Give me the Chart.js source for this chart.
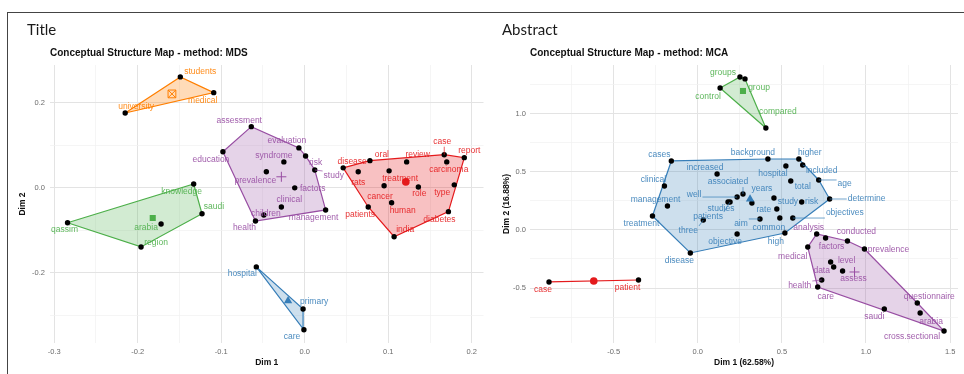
<!DOCTYPE html>
<html>
<head>
<meta charset="utf-8">
<script src="https://cdn.jsdelivr.net/npm/chart.js@4.4.1/dist/chart.umd.min.js"></script>
<style>
  body { margin: 0; background: #fff; width: 964px; height: 374px; overflow: hidden; position: relative; }
  .frameTop { position: absolute; left: 7px; top: 12px; width: 957px; border-top: 1.5px solid #444; }
  .frameLeft { position: absolute; left: 7px; top: 12px; height: 362px; border-left: 1.5px solid #444; }
  .heading { position: absolute; top: 22px; font: 15px/15px Lato, "Open Sans", sans-serif; color: #1a1a1a; }
  canvas { position: absolute; top: 0; }
</style>
</head>
<body>
<canvas id="mdsChart" width="490" height="374" style="left:0"></canvas>
<canvas id="mcaChart" width="474" height="374" style="left:490px"></canvas>
<div class="frameTop"></div>
<div class="frameLeft"></div>
<div class="heading" style="left:27px">Title</div>
<div class="heading" style="left:502px">Abstract</div>
<script>
// ---- Title words, MDS map ----
const mdsWords = ['students', 'medical', 'university',
  'knowledge', 'saudi', 'arabia', 'region', 'qassim',
  'assessment', 'education', 'evaluation', 'risk', 'study', 'syndrome', 'prevalence', 'factors', 'clinical', 'children', 'health', 'management',
  'disease', 'oral', 'review', 'case', 'report', 'carcinoma', 'rats', 'treatment', 'cancer', 'role', 'type', 'human', 'patients', 'diabetes', 'india',
  'hospital', 'primary', 'care'];
const mdsCluster = [0, 0, 0,
  1, 1, 1, 1, 1,
  2, 2, 2, 2, 2, 2, 2, 2, 2, 2, 2, 2,
  3, 3, 3, 3, 3, 3, 3, 3, 3, 3, 3, 3, 3, 3, 3,
  4, 4, 4];
const mdsDim1 = [-0.149, -0.109, -0.215,
  -0.133, -0.123, -0.172, -0.196, -0.284,
  -0.064, -0.098, -0.007, 0.001, 0.012, -0.025, -0.046, -0.012, -0.028, -0.049, -0.059, 0.025,
  0.046, 0.078, 0.122, 0.167, 0.191, 0.170, 0.064, 0.101, 0.095, 0.136, 0.179, 0.104, 0.076, 0.172, 0.107,
  -0.058, -0.002, -0.001];
const mdsDim2 = [0.261, 0.224, 0.176,
  0.009, -0.061, -0.085, -0.139, -0.082,
  0.144, 0.085, 0.094, 0.075, 0.042, 0.061, 0.038, 0.000, -0.045, -0.064, -0.078, -0.052,
  0.047, 0.064, 0.061, 0.078, 0.071, 0.061, 0.038, 0.040, 0.005, 0.002, 0.007, -0.035, -0.045, -0.056, -0.115,
  -0.186, -0.285, -0.334];
const mdsCentroidDim1 = [-0.159, -0.182, -0.028, 0.121, -0.020];
const mdsCentroidDim2 = [0.221, -0.071, 0.026, 0.014, -0.266];

// ---- Abstract words, MCA map ----
const mcaWords = ['groups', 'group', 'control', 'compared',
  'cases', 'clinical', 'management', 'treatment', 'disease', 'increased', 'associated', 'well', 'studies', 'patients', 'three', 'years',
  'background', 'higher', 'included', 'hospital', 'total', 'age', 'determine', 'risk', 'study', 'rate', 'objectives', 'common', 'aim', 'high', 'objective',
  'analysis', 'factors', 'conducted', 'prevalence', 'medical', 'level', 'data', 'assess', 'health', 'care', 'saudi', 'questionnaire', 'arabia', 'cross.sectional',
  'case', 'patient'];
const mcaCluster = [1, 1, 1, 1,
  4, 4, 4, 4, 4, 4, 4, 4, 4, 4, 4, 4,
  4, 4, 4, 4, 4, 4, 4, 4, 4, 4, 4, 4, 4, 4, 4,
  2, 2, 2, 2, 2, 2, 2, 2, 2, 2, 2, 2, 2, 2,
  3, 3];
const mcaDim1 = [0.251, 0.281, 0.133, 0.405,
  -0.157, -0.198, -0.180, -0.269, -0.044, 0.115, 0.269, 0.234, 0.180, 0.192, 0.033, 0.322,
  0.417, 0.601, 0.624, 0.524, 0.553, 0.719, 0.784, 0.618, 0.453, 0.470, 0.565, 0.488, 0.370, 0.518, 0.234,
  0.707, 0.760, 0.890, 0.991, 0.654, 0.790, 0.808, 0.861, 0.737, 0.713, 1.109, 1.305, 1.322, 1.464,
  -0.884, -0.352];
const mcaDim2 = [1.319, 1.302, 1.224, 0.879,
  0.595, 0.379, 0.207, 0.121, -0.198, 0.483, 0.310, 0.284, 0.241, 0.241, 0.086, 0.233,
  0.612, 0.612, 0.560, 0.552, 0.422, 0.431, 0.267, 0.241, 0.276, 0.181, 0.103, 0.103, 0.095, -0.026, -0.034,
  -0.034, -0.069, -0.095, -0.164, -0.147, -0.276, -0.319, -0.353, -0.431, -0.491, -0.681, -0.629, -0.716, -0.871,
  -0.448, -0.431];
const mcaCentroidDim1 = [null, 0.269, 0.932, -0.618, 0.311];
const mcaCentroidDim2 = [null, 1.198, -0.362, -0.440, 0.267];

// label placement (pixel nudge from the point to the label centre), like ggrepel put them
const mdsNudge = [[20, -5], [-11, 8], [11, -6],
  [-12, 8], [12, -7], [-15, 4], [15, -4], [-3, 7],
  [-12, -6], [-12, 8], [-12, -7], [10, 7], [19, 6], [-10, -6], [-11, 9], [18, 1], [8, -7], [2, -1], [-11, 7], [-12, 8],
  [9, -6], [12, -6], [11, -7], [-2, -13], [5, -7], [2, 8], [0, 11], [11, 8], [-4, 11], [1, 7], [-12, 8], [11, 8], [-8, 8], [-9, 8], [11, -7],
  [-14, 7], [11, -7], [-12, 7]];
const mdsLeaders = ['study', 'case'];
const mcaNudge = [[-17, -4], [14, 9], [-12, 9], [12, -16],
  [-12, -6], [-11, -6], [-12, -6], [-11, 8], [-11, 8], [-12, -6], [-15, -12], [-43, -2], [-7, 7], [-22, 15], [-15, 11], [10, -14],
  [-15, -6], [11, -6], [19, 6], [-13, 8], [12, 6], [26, 4], [37, 0], [10, 0], [14, 4], [-13, 1], [52, -5], [-11, 10], [-19, 5], [-9, 9], [-12, 8],
  [-8, -6], [6, 9], [9, -9], [24, 1], [-15, 10], [16, -1], [-12, 4], [11, 8], [-22, 6], [8, 10], [-10, 8], [12, -6], [11, 9], [-32, 6],
  [-6, 8], [-11, 8]];
const mcaLeaders = ['associated', 'well', 'patients', 'three', 'included', 'age', 'determine', 'objectives', 'aim', 'health'];

// cluster colours: orange, green, purple, red, blue
const clusterColors = ['#FF7F00', '#4DAF4A', '#984EA3', '#E41A1C', '#377EB8'];
const clusterFills = ['rgba(255,127,0,0.28)', 'rgba(77,175,74,0.25)', 'rgba(152,78,163,0.25)', 'rgba(228,26,28,0.27)', 'rgba(55,126,184,0.25)'];
const FONT = '"Liberation Sans", Arial, sans-serif';

function convexHull(pts) {
  const p = pts.slice().sort((a, b) => a.x - b.x || a.y - b.y);
  if (p.length < 3) return p;
  const cross = (o, a, b) => (a.x - o.x) * (b.y - o.y) - (a.y - o.y) * (b.x - o.x);
  const lower = [], upper = [];
  for (const q of p) {
    while (lower.length >= 2 && cross(lower[lower.length - 2], lower[lower.length - 1], q) <= 0) lower.pop();
    lower.push(q);
  }
  for (const q of p.slice().reverse()) {
    while (upper.length >= 2 && cross(upper[upper.length - 2], upper[upper.length - 1], q) <= 0) upper.pop();
    upper.push(q);
  }
  upper.pop(); lower.pop();
  return lower.concat(upper);
}

const wordLabels = {
  id: 'wordLabels',
  afterDatasetsDraw(chart, args, opts) {
    const meta = chart.getDatasetMeta(opts.datasetIndex);
    const ctx = chart.ctx;
    ctx.save();
    ctx.font = '8.5px ' + FONT;
    ctx.textAlign = 'center';
    ctx.textBaseline = 'middle';
    opts.words.forEach((w, i) => {
      const pt = meta.data[i];
      const lx = pt.x + opts.nudge[i][0], ly = pt.y + opts.nudge[i][1];
      const col = clusterColors[opts.cluster[i]];
      if (opts.leaders.includes(w)) {
        const hw = ctx.measureText(w).width / 2 + 1, hh = 5;
        const ex = Math.max(lx - hw, Math.min(pt.x, lx + hw));
        const ey = Math.max(ly - hh, Math.min(pt.y, ly + hh));
        ctx.strokeStyle = col;
        ctx.lineWidth = 0.7;
        ctx.beginPath(); ctx.moveTo(pt.x, pt.y); ctx.lineTo(ex, ey); ctx.stroke();
      }
      ctx.globalAlpha = 0.9;
      ctx.fillStyle = col;
      ctx.fillText(w, lx, ly);
      ctx.globalAlpha = 1;
    });
    ctx.restore();
  }
};

function isMajor(v, major) {
  return Math.abs(Math.round(v / major) * major - v) < 1e-6;
}

function axis(opts) {
  return {
    type: 'linear',
    min: opts.min, max: opts.max,
    border: { display: false },
    grid: {
      drawTicks: false,
      color: c => isMajor(c.tick.value, opts.major) ? '#e3e3e3' : '#f0f0f0',
      lineWidth: c => isMajor(c.tick.value, opts.major) ? 1 : 0.7
    },
    ticks: {
      stepSize: opts.major / 2, includeBounds: false, autoSkip: false, maxTicksLimit: 40,
      maxRotation: 0, padding: opts.tickPad, color: '#6b6b6b', font: { family: FONT, size: 7.5 },
      callback: v => {
        if (!isMajor(v, opts.major)) return '';
        const r = Math.round(v * 1000) / 1000;
        return (r === 0 ? 0 : r).toFixed(1);
      }
    },
    title: { display: true, text: opts.title, color: '#111', font: { family: FONT, size: 8.5, weight: 'bold' }, padding: opts.titlePad },
    afterFit: opts.fit
  };
}

function buildMap(canvasId, d) {
  const datasets = [];
  const nClusters = clusterColors.length;
  // centroids on top
  const markerStyle = ['rect', 'rect', 'cross', 'circle', 'triangle'];
  const markerRadius = [5.5, 4.3, 5, 3.8, 4.8];
  for (let k = 0; k < nClusters; k++) {
    if (d.cx[k] === null) continue;
    const hollow = k === 0;
    datasets.push({
      data: [{ x: d.cx[k], y: d.cy[k] }], order: 0,
      pointStyle: markerStyle[k], pointRadius: markerRadius[k],
      backgroundColor: hollow ? 'rgba(0,0,0,0)' : clusterColors[k],
      borderColor: clusterColors[k], borderWidth: k === 2 || hollow ? 1 : 0
    });
    if (hollow) {
      datasets.push({
        data: [{ x: d.cx[k], y: d.cy[k] }], order: 0,
        pointStyle: 'crossRot', pointRadius: markerRadius[k],
        borderColor: clusterColors[k], borderWidth: 1
      });
    }
  }
  const wordIndex = datasets.length;
  datasets.push({
    data: d.words.map((w, i) => ({ x: d.dim1[i], y: d.dim2[i] })), order: 1,
    pointRadius: 2.7, backgroundColor: '#000', borderWidth: 0
  });
  for (let k = 0; k < nClusters; k++) {
    const pts = d.words.map((w, i) => ({ x: d.dim1[i], y: d.dim2[i], k: d.cluster[i] })).filter(p => p.k === k);
    if (!pts.length) continue;
    const hull = convexHull(pts);
    datasets.push({
      type: 'line', order: 2,
      data: hull.concat([hull[0]]).map(p => ({ x: p.x, y: p.y })),
      borderColor: clusterColors[k], borderWidth: 1.2, backgroundColor: clusterFills[k],
      fill: 'shape', tension: 0, pointRadius: 0
    });
  }

  return new Chart(document.getElementById(canvasId), {
    type: 'scatter',
    data: { datasets },
    plugins: [wordLabels],
    options: {
      responsive: false,
      animation: false,
      events: [],
      layout: { padding: d.padding },
      scales: { x: d.x, y: d.y },
      plugins: {
        legend: { display: false },
        tooltip: { enabled: false },
        title: {
          display: true, text: d.title, align: 'start', fullSize: false, color: '#111',
          font: { family: FONT, size: 10, weight: 'bold' }, padding: { top: 0, bottom: 6 }
        },
        wordLabels: { datasetIndex: wordIndex, words: d.words, cluster: d.cluster, nudge: d.nudge, leaders: d.leaders }
      }
    }
  });
}

buildMap('mdsChart', {
  title: 'Conceptual Structure Map - method: MDS',
  words: mdsWords, cluster: mdsCluster, dim1: mdsDim1, dim2: mdsDim2,
  cx: mdsCentroidDim1, cy: mdsCentroidDim2, nudge: mdsNudge, leaders: mdsLeaders,
  padding: { left: 12, right: 1, top: 47, bottom: 0 },
  x: axis({ min: -0.305, max: 0.214, major: 0.1, tickPad: 4, title: 'Dim 1', titlePad: { top: 0, bottom: 6 }, fit: s => { s.height = 31; } }),
  y: axis({ min: -0.365, max: 0.289, major: 0.2, tickPad: 5, title: 'Dim 2', titlePad: { top: 6, bottom: 0 }, fit: s => { s.width = 38; } })
});

buildMap('mcaChart', {
  title: 'Conceptual Structure Map - method: MCA',
  words: mcaWords, cluster: mcaCluster, dim1: mcaDim1, dim2: mcaDim2,
  cx: mcaCentroidDim1, cy: mcaCentroidDim2, nudge: mcaNudge, leaders: mcaLeaders,
  padding: { left: 8, right: 4, top: 47, bottom: 0 },
  x: axis({ min: -0.997, max: 1.547, major: 0.5, tickPad: 4, title: 'Dim 1 (62.58%)', titlePad: { top: 0, bottom: 6 }, fit: s => { s.height = 31; } }),
  y: axis({ min: -0.974, max: 1.422, major: 0.5, tickPad: 4, title: 'Dim 2 (16.88%)', titlePad: { top: 3.4, bottom: 0 }, fit: s => { s.width = 32; } })
});
</script>
</body>
</html>
